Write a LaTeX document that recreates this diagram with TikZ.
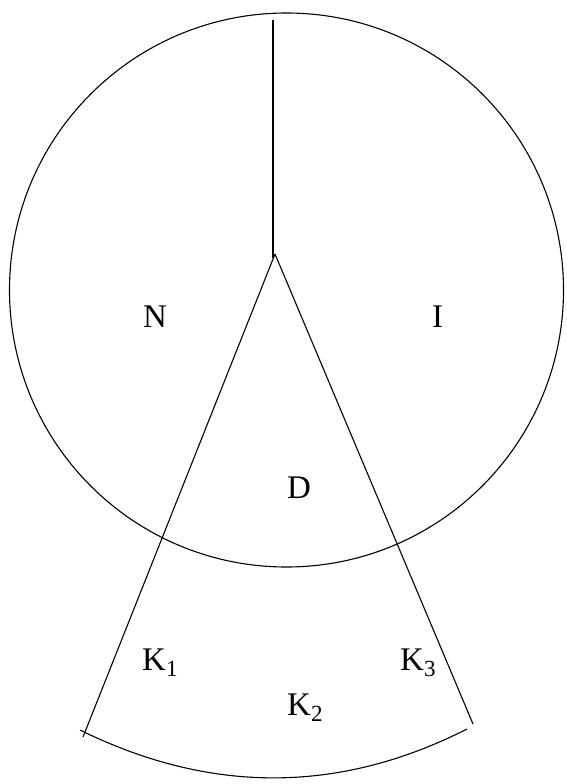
\documentclass[tikz,border=0pt]{standalone}
\usepackage{fontspec}
\setmainfont{Liberation Serif}
\begin{document}
\begin{tikzpicture}[x=1pt,y=-1pt,
  lbl/.style={inner sep=0pt,anchor=base west,font=\fontsize{33}{36}\selectfont},
  ln/.style={line width=1.1pt}]
\useasboundingbox (0,0) rectangle (566,784);
\coordinate (c) at (286.5,290);
\coordinate (top) at (273,20);
\coordinate (vend) at (273,258);
\coordinate (apex) at (275,254);
\coordinate (lend) at (83,737);
\coordinate (rend) at (473,724);
\coordinate (al) at (80,730);
\coordinate (ar) at (467,729);
\draw[ln] (c) circle (277);
\draw[ln] (top) -- (vend);
\draw[ln] (apex) -- (lend);
\draw[ln] (apex) -- (rend);
\draw[ln] (al) .. controls (210,794) and (339,794) .. (ar);
\node[lbl] (N) at (143,327) {N};
\node[lbl] (I) at (432,327) {I};
\node[lbl] (D) at (287,498) {D};
\node[lbl] (K1) at (142,670) {K\textsubscript{1}};
\node[lbl] (K3) at (400,670) {K\textsubscript{3}};
\node[lbl] (K2) at (287,715) {K\textsubscript{2}};
\end{tikzpicture}
\end{document}
